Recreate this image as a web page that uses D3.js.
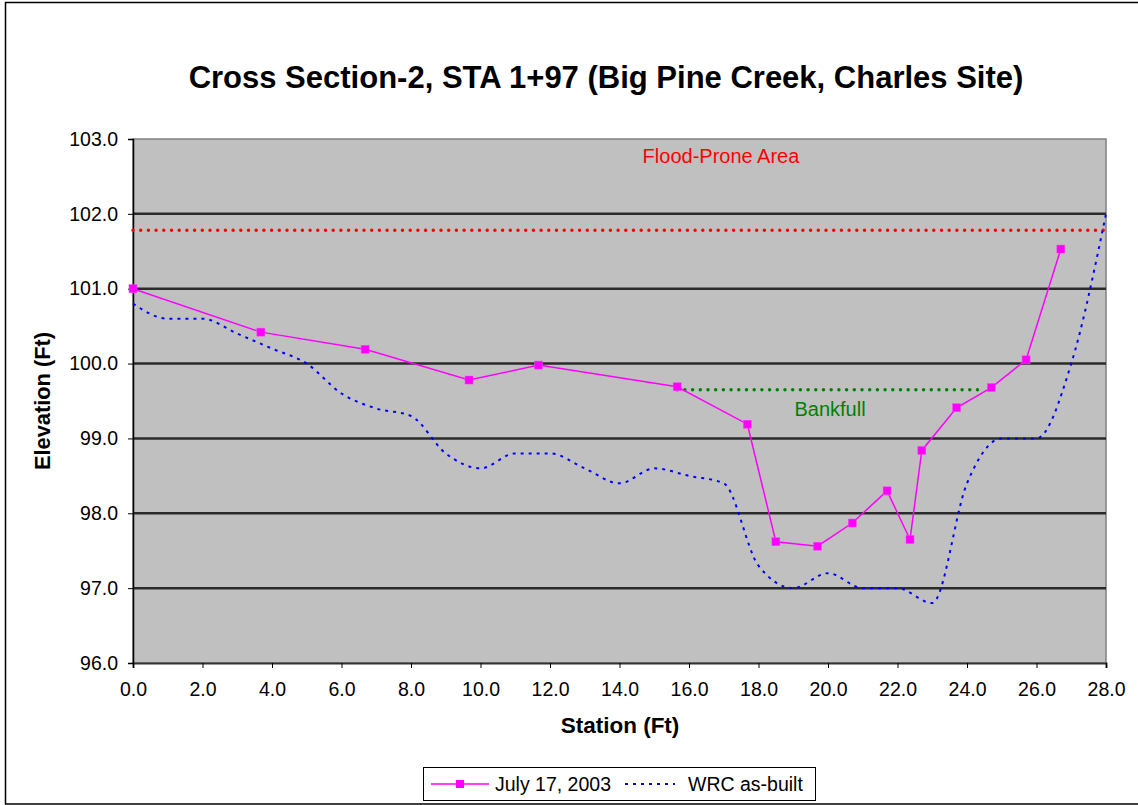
<!DOCTYPE html>
<html>
<head>
<meta charset="utf-8">
<script src="https://cdn.jsdelivr.net/npm/d3@7/dist/d3.min.js"></script>
<style>
  body { margin: 0; background: #fff; }
  svg { display: block; font-family: Arial, "Liberation Sans", sans-serif; }
</style>
</head>
<body>
<svg id="chart" width="1138" height="805"></svg>
<script>
// ---- data ----
const julyStation = [0.0, 3.68, 6.68, 9.67, 11.67, 15.66, 17.68, 18.5, 19.7, 20.7, 21.7, 22.36, 22.7, 23.7, 24.7, 25.7, 26.7];
const julyElev    = [101.0, 100.42, 100.19, 99.78, 99.98, 99.69, 99.19, 97.62, 97.56, 97.87, 98.30, 97.65, 98.84, 99.41, 99.68, 100.05, 101.53];

const wrcStation = [0, 1, 2, 3, 4, 5, 6, 7, 8, 9, 10, 11, 12, 13, 14, 15, 16, 17, 18, 19, 20, 21, 22, 23, 24, 25, 26, 27, 28];
const wrcElev    = [100.8, 100.6, 100.6, 100.4, 100.2, 100.0, 99.6, 99.4, 99.3, 98.8, 98.6, 98.8, 98.8, 98.6, 98.4, 98.6, 98.5, 98.4, 97.3, 97.0, 97.2, 97.0, 97.0, 96.8, 98.4, 99.0, 99.0, 100.0, 102.0];

const floodProne = { elev: 101.78, from: 0, to: 28, label: "Flood-Prone Area" };
const bankfull   = { elev: 99.65, from: 15.66, to: 24.35, label: "Bankfull" };

const xTicks = [0, 2, 4, 6, 8, 10, 12, 14, 16, 18, 20, 22, 24, 26, 28];
const yTicks = [96, 97, 98, 99, 100, 101, 102, 103];

const titleText = "Cross Section-2, STA 1+97 (Big Pine Creek, Charles Site)";
const xTitle = "Station (Ft)";
const yTitle = "Elevation (Ft)";
const seriesNames = ["July 17, 2003", "WRC as-built"];

// ---- layout ----
const svg = d3.select("#chart");
const plot = { left: 133, right: 1106, top: 139, bottom: 663 };

const x = d3.scaleLinear().domain([0, 28]).range([plot.left, plot.right]);
const y = d3.scaleLinear().domain([96, 103]).range([plot.bottom, plot.top]);

// outer border
svg.append("rect").attr("x", 5.5).attr("y", 2.5).attr("width", 1140).attr("height", 801.5)
  .attr("fill", "#fff").attr("stroke", "#000").attr("stroke-width", 1.5);

// title
svg.append("text").attr("x", 606).attr("y", 88).attr("text-anchor", "middle")
  .attr("font-size", 31).attr("font-weight", "bold").text(titleText);

// plot background
svg.append("rect").attr("x", plot.left).attr("y", plot.top)
  .attr("width", plot.right - plot.left).attr("height", plot.bottom - plot.top)
  .attr("fill", "#C0C0C0").attr("stroke", "#808080").attr("stroke-width", 1.5);

// gridlines
svg.append("g").selectAll("line").data(yTicks.filter(d => d > 96 && d < 103)).join("line")
  .attr("x1", plot.left).attr("x2", plot.right)
  .attr("y1", d => y(d)).attr("y2", d => y(d))
  .attr("stroke", "#2b2b2b").attr("stroke-width", 2.5);

// axes
const xAxis = d3.axisBottom(x).tickValues(xTicks).tickFormat(d3.format(".1f")).tickSize(5).tickPadding(14);
const yAxis = d3.axisLeft(y).tickValues(yTicks).tickFormat(d3.format(".1f")).tickSize(5).tickPadding(10);

const gx = svg.append("g").attr("transform", `translate(0,${plot.bottom})`).call(xAxis);
const gy = svg.append("g").attr("transform", `translate(${plot.left},0)`).call(yAxis);
[gx, gy].forEach(g => {
  g.select(".domain").attr("stroke", "#000").attr("stroke-width", 1.5);
  g.selectAll(".tick line").attr("stroke", "#000");
  g.selectAll(".tick text").attr("font-size", 19.5).attr("fill", "#000")
    .attr("font-family", "Arial, 'Liberation Sans', sans-serif");
});
gx.select(".domain").attr("stroke", "#333").attr("stroke-width", 2);

// axis titles
svg.append("text").attr("x", 620).attr("y", 733).attr("text-anchor", "middle")
  .attr("font-size", 22.5).attr("font-weight", "bold").text(xTitle);
svg.append("text").attr("transform", `translate(50,401) rotate(-90)`).attr("text-anchor", "middle")
  .attr("font-size", 21.8).attr("font-weight", "bold").text(yTitle);

// reference lines
function refLine(r, color) {
  svg.append("line")
    .attr("x1", x(r.from)).attr("x2", x(r.to))
    .attr("y1", y(r.elev)).attr("y2", y(r.elev))
    .attr("stroke", color).attr("stroke-width", 3.5)
    .attr("stroke-linecap", "round").attr("stroke-dasharray", "0,7.7");
}
refLine(floodProne, "#FF0000");
refLine(bankfull, "#008000");

svg.append("text").attr("x", 721).attr("y", 163).attr("text-anchor", "middle")
  .attr("font-size", 20).attr("fill", "#FF0000").text(floodProne.label);
svg.append("text").attr("x", 830).attr("y", 416).attr("text-anchor", "middle")
  .attr("font-size", 20).attr("fill", "#008000").text(bankfull.label);

// WRC as-built (smoothed dotted)
const wrcData = wrcStation.map((s, i) => [s, wrcElev[i]]);
svg.append("path").datum(wrcData)
  .attr("d", d3.line().x(d => x(d[0])).y(d => y(d[1])).curve(d3.curveMonotoneX))
  .attr("fill", "none").attr("stroke", "#0000FF").attr("stroke-width", 2)
  .attr("stroke-dasharray", "3,5");

// July 17, 2003
const julyData = julyStation.map((s, i) => [s, julyElev[i]]);
svg.append("path").datum(julyData)
  .attr("d", d3.line().x(d => x(d[0])).y(d => y(d[1])))
  .attr("fill", "none").attr("stroke", "#FF00FF").attr("stroke-width", 1.5);
svg.append("g").selectAll("rect").data(julyData).join("rect")
  .attr("x", d => x(d[0]) - 4).attr("y", d => y(d[1]) - 4)
  .attr("width", 8).attr("height", 8)
  .attr("fill", "#FF00FF").attr("stroke", "#FF40FF").attr("stroke-width", 0.5);

// legend
const lg = svg.append("g");
lg.append("rect").attr("x", 423.5).attr("y", 767.5).attr("width", 392).attr("height", 33)
  .attr("fill", "#fff").attr("stroke", "#000").attr("stroke-width", 1);
lg.append("line").attr("x1", 431).attr("x2", 489).attr("y1", 784).attr("y2", 784)
  .attr("stroke", "#FF00FF").attr("stroke-width", 1.5);
lg.append("rect").attr("x", 456).attr("y", 780).attr("width", 8).attr("height", 8).attr("fill", "#FF00FF");
lg.append("text").attr("x", 495).attr("y", 791).attr("font-size", 19.5).text(seriesNames[0]);
lg.append("line").attr("x1", 625).attr("x2", 675).attr("y1", 784).attr("y2", 784)
  .attr("stroke", "#0000FF").attr("stroke-width", 2).attr("stroke-dasharray", "3,5");
lg.append("text").attr("x", 688).attr("y", 791).attr("font-size", 19.5).text(seriesNames[1]);
</script>
</body>
</html>
